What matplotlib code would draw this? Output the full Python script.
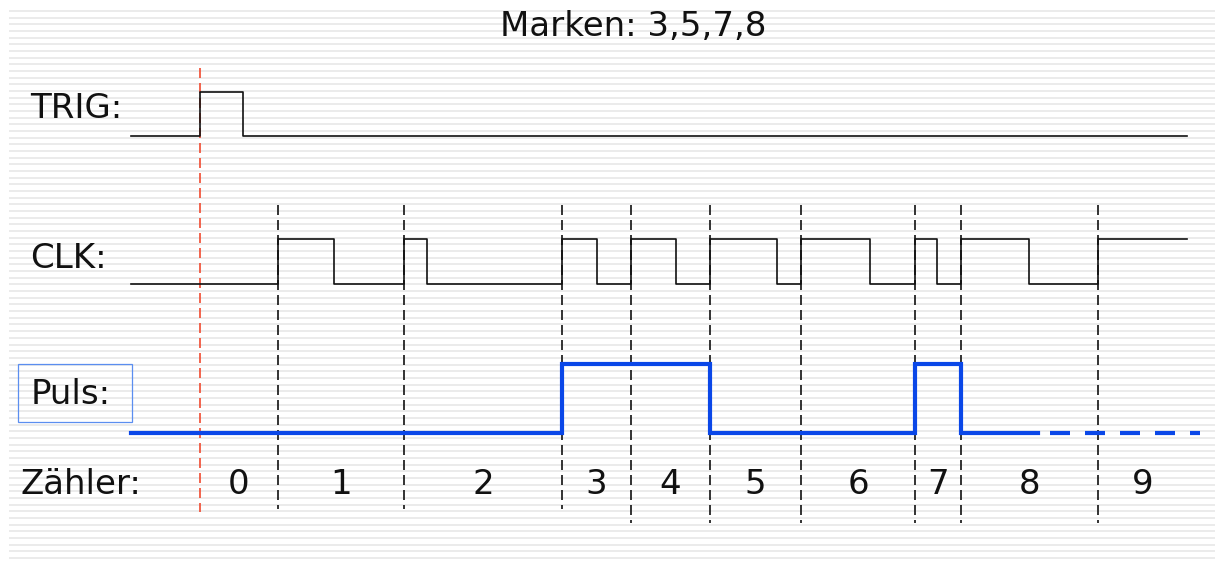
import numpy as np
import matplotlib
matplotlib.use("Agg")
import matplotlib.pyplot as plt
from matplotlib.patches import Rectangle

plt.rcParams["lines.scale_dashes"] = False

# ---- data (time axis in drawing units) ----
t_start = 131
t_end = 1187
trig_time = 200
trig_width = 43
clk_rise = [278, 404, 562, 631, 710, 801, 915, 961, 1098]
clk_fall = [334, 427, 597, 676, 777, 870, 937, 1029]
marks = [3, 5, 7, 8]
counter_labels = ["0", "1", "2", "3", "4", "5", "6", "7", "8", "9"]
long_marker = [False, False, False, True, True, True, True, True, True]
row_labels = ["TRIG:", "CLK:", "Puls:", "Zähler:"]
title = "Marken: " + ",".join(str(m) for m in marks)

# row levels (y, top-down): (high, low)
trig_lv = (92, 136)
clk_lv = (239, 284)
puls_lv = (364, 433)

W, H = 1215, 565
PX = 0.72  # points per pixel
fig = plt.figure(figsize=(W / 100, H / 100), dpi=100)
ax = fig.add_axes([0, 0, 1, 1])
ax.set_xlim(0, W)
ax.set_ylim(H, 0)
ax.axis("off")

# lined background
for y in np.arange(11, 564, 6.67):
    ax.plot([9, W], [y, y], color="#e6e6e6", lw=1.1, zorder=0, solid_capstyle="butt")

FS = 24.5
blk = "#111111"

# title
ax.text(633, 27, title, ha="center", va="center", fontsize=FS, color=blk)

# TRIG
tx = [t_start, trig_time, trig_time, trig_time + trig_width, trig_time + trig_width, t_end]
ty = [trig_lv[1], trig_lv[1], trig_lv[0], trig_lv[0], trig_lv[1], trig_lv[1]]
ax.plot(tx, ty, color=blk, lw=1.2, zorder=3)
ax.text(30, 108, row_labels[0], ha="left", va="center", fontsize=FS, color=blk)

# CLK
cx, cy = [t_start], [clk_lv[1]]
for i, r in enumerate(clk_rise):
    cx += [r, r]
    cy += [clk_lv[1], clk_lv[0]]
    if i < len(clk_fall):
        f = clk_fall[i]
        cx += [f, f]
        cy += [clk_lv[0], clk_lv[1]]
cx.append(t_end)
cy.append(cy[-1])
ax.plot(cx, cy, color=blk, lw=1.2, zorder=3)
ax.text(30, 258, row_labels[1], ha="left", va="center", fontsize=FS, color=blk)

# Puls: toggles at rising edges that start marked counts
px, py = [t_start], [puls_lv[1]]
state = False
for k, r in enumerate(clk_rise):
    cnt = k + 1
    if cnt in marks:
        new = not state
        px += [r, r]
        py += [puls_lv[0] if state else puls_lv[1], puls_lv[0] if new else puls_lv[1]]
        state = new
solid_end = 1038
px.append(solid_end)
py.append(py[-1])
blue = "#0a47e8"
ax.plot(px, py, color=blue, lw=3.0, zorder=4, solid_joinstyle="miter")
ax.plot([solid_end, 1200], [puls_lv[1], puls_lv[1]], color=blue, lw=3.0, zorder=4,
        linestyle=(23 * PX, (20 * PX, 15 * PX)), dash_capstyle="butt")
ax.add_patch(Rectangle((18, 364), 114, 58, fill=False, edgecolor="#5b8ef0", lw=0.9, zorder=3))
ax.text(31, 394, row_labels[2], ha="left", va="center", fontsize=FS, color=blk)

# dashed clock markers
for r, lg in zip(clk_rise, long_marker):
    ax.plot([r, r], [205, 523 if lg else 509], color=blk, lw=1.2, zorder=2,
            linestyle=(0, (10 * PX, 5 * PX)))
# trigger marker
ax.plot([trig_time, trig_time], [68, 512], color="#f04a30", lw=1.2, zorder=2,
        linestyle=(0, (10 * PX, 5 * PX)))

# counter labels
bounds = [trig_time] + clk_rise + [t_end]
for i, lab in enumerate(counter_labels):
    xc = (bounds[i] + bounds[i + 1]) / 2
    ax.text(xc, 484, lab, ha="center", va="center", fontsize=FS, color=blk)
ax.text(20, 485, row_labels[3], ha="left", va="center", fontsize=FS, color=blk)

fig.savefig("out.png", dpi=100, facecolor="white")
